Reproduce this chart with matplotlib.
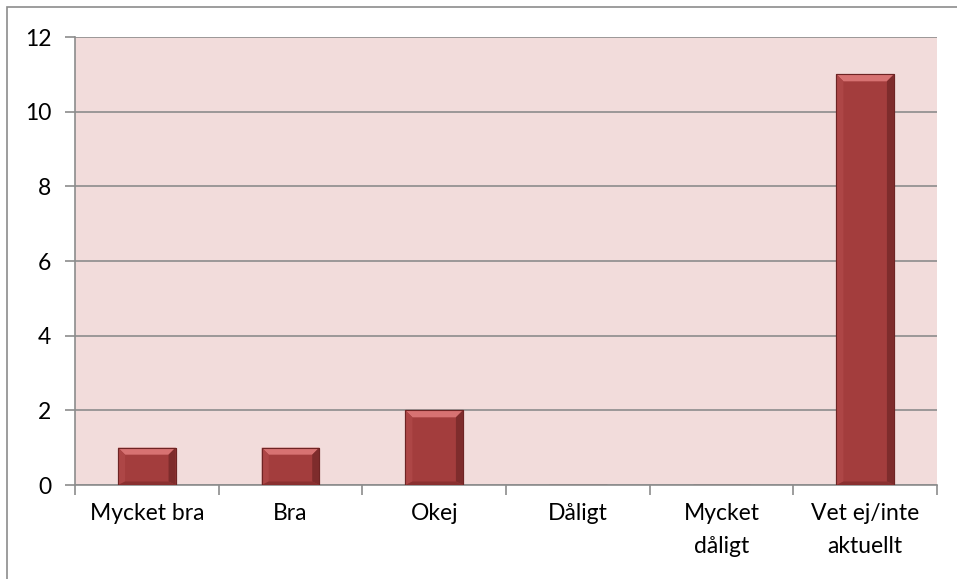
import matplotlib
matplotlib.use("Agg")
import matplotlib.pyplot as plt
from matplotlib.patches import Rectangle, Polygon
import numpy as np

categories = ["Mycket bra", "Bra", "Okej", "Dåligt", "Mycket\ndåligt", "Vet ej/inte\naktuellt"]
values = [1, 1, 2, 0, 0, 11]
yticks = [0, 2, 4, 6, 8, 10, 12]

plt.rcParams['font.family'] = ['Lato', 'DejaVu Sans']

fig = plt.figure(figsize=(9.57, 5.79), dpi=100)
fig.patches.append(Rectangle((7/957, -0.1), 1.2, 1 - 7/579 + 0.1, transform=fig.transFigure,
                             fill=False, edgecolor='#8c8c8c', linewidth=1.2))
ax = fig.add_axes([75/957, 1 - 485/579, (937 - 75)/957, (485 - 37)/579])
ax.set_facecolor('#f2dcdb')

x = np.arange(len(categories))
bw = 0.4
bars = ax.bar(x, values, width=bw, color='#a33d3d', edgecolor='#6e2424', linewidth=0.8, zorder=3)

ax.set_xlim(-0.5, len(categories) - 0.5)
ax.set_ylim(0, 12)
ax.set_yticks(yticks)
ax.set_yticklabels([str(v) for v in yticks], fontsize=16.5)
ax.yaxis.grid(True, color='#8c8c8c', linewidth=1.2, zorder=1)
ax.set_axisbelow(True)

ax.set_xticks(x)
ax.set_xticklabels(categories, fontsize=16.5, linespacing=1.7)
ax.tick_params(axis='x', length=0, pad=13)
ax.set_xticks(np.arange(len(categories) + 1) - 0.5, minor=True)
ax.tick_params(axis='x', which='minor', length=7, color='#8c8c8c', width=1.2)
ax.tick_params(axis='y', length=7, color='#8c8c8c', width=1.2, pad=10)

for s in ['top', 'right']:
    ax.spines[s].set_visible(False)
for s in ['left', 'bottom']:
    ax.spines[s].set_color('#8c8c8c')
    ax.spines[s].set_linewidth(1.2)

# bevel highlight on each bar (derived from bar geometry)
fig.canvas.draw()
inv = ax.transData.inverted()
for b in bars:
    h = b.get_height()
    if h <= 0:
        continue
    x0, x1 = b.get_x(), b.get_x() + b.get_width()
    (px0, py1) = ax.transData.transform((x0, h))
    (px1, py0) = ax.transData.transform((x1, 0))
    d = 7
    top = [inv.transform(p) for p in [(px0, py1), (px1, py1), (px1 - d, py1 - d), (px0 + d, py1 - d)]]
    ax.add_patch(Polygon(top, closed=True, facecolor='#d77272', edgecolor='none', zorder=4))
    left = [inv.transform(p) for p in [(px0, py1), (px0 + d, py1 - d), (px0 + d, py0 + d * 0.5), (px0, py0)]]
    ax.add_patch(Polygon(left, closed=True, facecolor='#ad4646', edgecolor='none', zorder=4))
    right = [inv.transform(p) for p in [(px1, py1), (px1 - d, py1 - d), (px1 - d, py0 + d * 0.5), (px1, py0)]]
    ax.add_patch(Polygon(right, closed=True, facecolor='#7e2c2c', edgecolor='none', zorder=4))
    bot = [inv.transform(p) for p in [(px0, py0), (px0 + d, py0 + d * 0.5), (px1 - d, py0 + d * 0.5), (px1, py0)]]
    ax.add_patch(Polygon(bot, closed=True, facecolor='#8a3030', edgecolor='none', zorder=4))
    ax.add_patch(Rectangle((x0, 0), x1 - x0, h, fill=False, edgecolor='#6e2424', linewidth=0.8, zorder=5))

fig.savefig('out.png', dpi=100)
